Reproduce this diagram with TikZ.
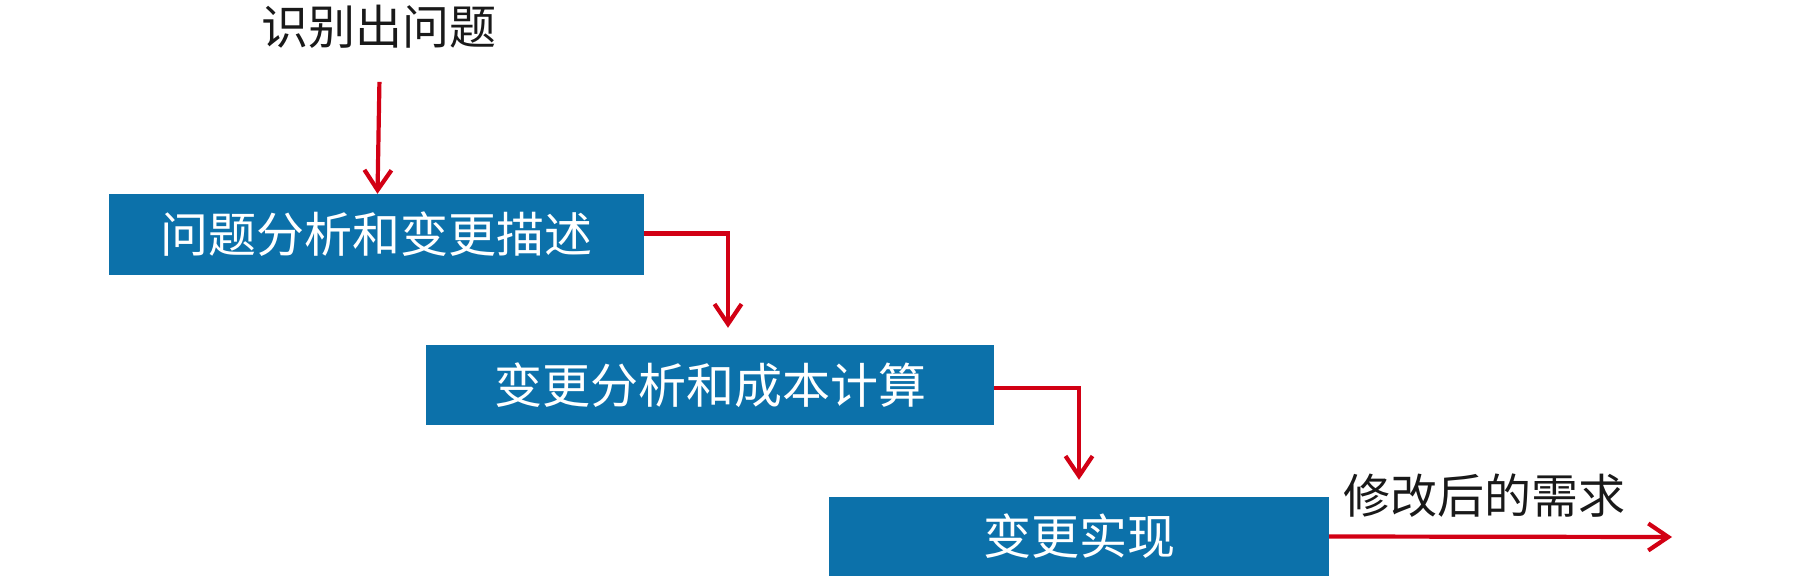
\documentclass[tikz,border=0pt]{standalone}
\usepackage{fontspec}
\setmainfont{Noto Sans CJK SC}
\usetikzlibrary{arrows.meta}
\definecolor{boxblue}{RGB}{12,113,170}
\definecolor{arrred}{RGB}{210,0,20}
\tikzset{
  stepbox/.style={fill=boxblue, draw=none, inner sep=0pt, text=white, font=\fontsize{48}{50}\selectfont},
  plainlabel/.style={inner sep=0pt, text=black!90, font=\fontsize{47}{50}\selectfont},
  arr/.style={draw=arrred, line width=4.2pt, -{Straight Barb[length=20pt,width=27pt]}}
}
\begin{document}
\begin{tikzpicture}[x=1pt,y=-1pt]
\useasboundingbox (0,0) rectangle (1804,588);
\node[plainlabel] (top) at (379,27) {识别出问题};
\node[stepbox, minimum width=535pt, minimum height=81pt] (b1) at (376.5,234.5) {问题分析和变更描述};
\node[stepbox, minimum width=568pt, minimum height=80pt] (b2) at (710,385) {变更分析和成本计算};
\node[stepbox, minimum width=500pt, minimum height=79pt] (b3) at (1079,536.5) {变更实现};
\node[plainlabel] (res) at (1484,496) {修改后的需求};
\coordinate (outend) at (1672,537);
\draw[arr, shorten <=33pt] ([xshift=1pt]top.south) -- ([xshift=1pt]b1.north);
\draw[arr] ([yshift=1pt]b1.east) -| ([xshift=18pt,yshift=17pt]b2.north);
\draw[arr] ([yshift=-3pt]b2.east) -| ([yshift=17pt]b3.north);
\draw[arr] (b3.east) -- (outend);
\end{tikzpicture}
\end{document}
